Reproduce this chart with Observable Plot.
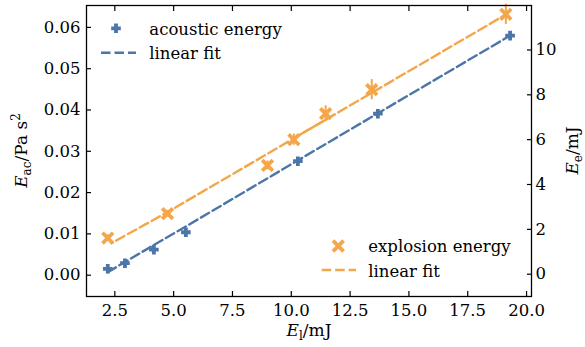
<!DOCTYPE html>
<html><head><meta charset="utf-8">
<script src="https://cdn.jsdelivr.net/npm/d3@7"></script>
<script src="https://cdn.jsdelivr.net/npm/@observablehq/plot@0.6"></script>
<style>body{margin:0;background:#fff} #chart svg{display:block}</style>
</head><body><div id="chart"></div>
<script>
// acoustic energy (left axis, Pa s^2)
const acX = [2.2, 2.93, 4.16, 5.52, 10.28, 13.68, 19.3];
const acY = [0.00155, 0.0029, 0.0062, 0.0104, 0.0276, 0.0391, 0.0580];
const acFit = [0.0007, 0.0032, 0.0073, 0.0118, 0.0278, 0.0392, 0.0580];
// explosion energy (right axis, mJ)
const exX = [2.2, 4.74, 8.99, 10.11, 11.46, 13.42, 19.12];
const exY = [1.61, 2.70, 4.85, 6.0, 7.16, 8.23, 11.59];
const exErr = [0.15, 0.15, 0.2, 0.25, 0.35, 0.45, 0.45];
const exFitX = [2.2, 2.35, 4.74, 8.99, 10.11, 11.46, 13.42, 19.12];
const exFitY = [1.70, 1.38, 2.77, 5.37, 6.06, 6.89, 8.09, 11.58];
const exFitSolid = [4, 5];
// ticks
const xTicks = [2.5, 5, 7.5, 10, 12.5, 15, 17.5, 20];
const yTicks = [0, 0.01, 0.02, 0.03, 0.04, 0.05, 0.06];
const y2Ticks = [0, 2, 4, 6, 8, 10];

const blue = "#4c76a8";
const orange = "#f4a64b";
const y2a = 0.000242, y2b = 0.005429;
const toL = v => y2a + y2b * v;
const fromL = v => (v - y2a) / y2b;

const ac = acX.map((x, i) => ({x, y: acY[i], fit: acFit[i]}));
const ex = exX.map((x, i) => ({x, y: toL(exY[i]), y1: toL(exY[i] - exErr[i]), y2: toL(exY[i] + exErr[i])}));
const exFit = exFitX.map((x, i) => ({x, y: toL(exFitY[i])}));
const exFitS = exFitSolid.map(i => exFit[i]);

const dash = "9.5,4";
const plusR = 3.2, plusW = 3.8, timesR = 4.9, timesW = 3.8;
const chart = Plot.plot({
  width: 585, height: 347,
  marginLeft: 86, marginRight: 54, marginTop: 5, marginBottom: 51,
  style: {fontFamily: "'DejaVu Serif', serif", fontSize: "16.5px", color: "#000", background: "#fff"},
  x: {domain: [1.296, 20.21]},
  y: {domain: [-0.00516, 0.0653]},
  marks: [
    Plot.axisX(xTicks, {anchor: "bottom", tickSize: -5, tickPadding: 13, tickFormat: d3.format(".1f"), label: null, strokeWidth: 1.2}),
    Plot.axisX(xTicks, {anchor: "top", tickSize: -5, tickFormat: () => "", label: null, strokeWidth: 1.2}),
    Plot.axisY(yTicks, {anchor: "left", tickSize: -5, tickPadding: 11, tickFormat: d3.format(".2f"), label: null, strokeWidth: 1.2}),
    Plot.axisY(y2Ticks.map(toL), {anchor: "right", tickSize: -5, tickPadding: 9, tickFormat: d => String(Math.round(fromL(d))), label: null, strokeWidth: 1.2}),
    Plot.line(ac, {x: "x", y: "fit", stroke: blue, strokeWidth: 2.4, strokeDasharray: dash}),
    Plot.dot(ac, {x: "x", y: "y", symbol: "plus", r: plusR, stroke: blue, strokeWidth: plusW}),
    Plot.line(exFit, {x: "x", y: "y", stroke: orange, strokeWidth: 2.4, strokeDasharray: dash}),
    Plot.line(exFitS, {x: "x", y: "y", stroke: orange, strokeWidth: 2.4}),
    Plot.ruleX(ex, {x: "x", y1: "y1", y2: "y2", stroke: orange, strokeWidth: 2}),
    Plot.dot(ex, {x: "x", y: "y", symbol: "times", r: timesR, stroke: orange, strokeWidth: timesW}),
    Plot.frame({stroke: "#000", strokeWidth: 1.3})
  ]
});
document.getElementById("chart").appendChild(chart);

const svg = d3.select(chart);
const font = "'DejaVu Serif', serif";
const g = svg.append("g").attr("font-family", font).attr("font-size", 16.5).attr("fill", "#000").attr("text-anchor", "start");

function legendItem(mx, my, kind, color, tx, ty, label) {
  if (kind === "plus" || kind === "times") {
    const sym = kind === "plus" ? d3.symbolPlus : d3.symbolTimes;
    const r = kind === "plus" ? plusR : timesR;
    g.append("path").attr("d", d3.symbol(sym, Math.PI * r * r)()).attr("transform", `translate(${mx},${my})`)
      .attr("fill", "none").attr("stroke", color).attr("stroke-width", kind === "plus" ? plusW : timesW);
  } else {
    g.append("line").attr("x1", mx[0]).attr("x2", mx[1]).attr("y1", my).attr("y2", my)
      .attr("stroke", color).attr("stroke-width", 2.4).attr("stroke-dasharray", dash);
  }
  g.append("text").attr("x", tx).attr("y", ty).attr("text-anchor", "start").text(label);
}
legendItem(116, 28.3, "plus", blue, 149.3, 34.5, "acoustic energy");
legendItem([101, 136], 52.7, "line", blue, 149.3, 59, "linear fit");
legendItem(338.3, 246, "times", orange, 368.3, 251.5, "explosion energy");
legendItem([321.7, 356], 270, "line", orange, 368.3, 276.5, "linear fit");

// axis labels with math-style sub/superscripts
function mathLabel(x, y, rot, parts) {
  const t = g.append("text").attr("transform", `translate(${x},${y}) rotate(${rot})`).attr("text-anchor", "middle").attr("font-size", 17);
  for (const p of parts) {
    const s = t.append("tspan").text(p.t);
    if (p.it) s.attr("font-style", "italic");
    if (p.sub) s.attr("font-size", 12).attr("dy", 4);
    if (p.sup) s.attr("font-size", 12).attr("dy", -7);
    if (p.back) s.attr("dy", p.back);
  }
}
mathLabel(27, 150.5, -90, [{t: "E", it: true}, {t: "ac", sub: true}, {t: "/Pa s", back: -4}, {t: "2", sup: true}]);
mathLabel(309, 335.5, 0, [{t: "E", it: true}, {t: "l", sub: true}, {t: "/mJ", back: -4}]);
mathLabel(578, 150.5, -90, [{t: "E", it: true}, {t: "e", sub: true}, {t: "/mJ", back: -4}]);
</script>
</body></html>
